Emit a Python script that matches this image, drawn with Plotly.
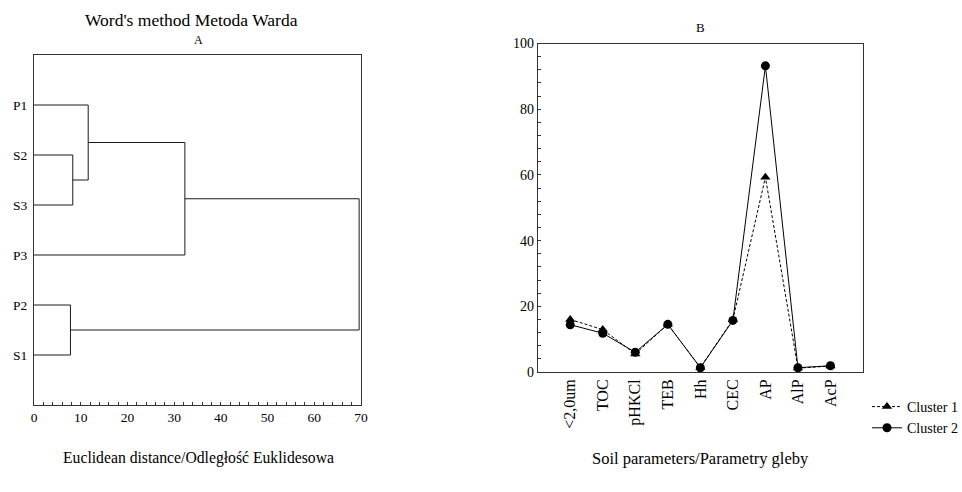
import plotly.graph_objects as go

# ---- Data: dendrogram (Ward's method) ----
leaves = ["P1", "S2", "S3", "P3", "P2", "S1"]          # top to bottom
# merges: (left member, right member, distance)
merges = [("S2", "S3", 8.3),
          ("P2", "S1", 7.8),
          ("P1", "c0", 11.6),
          ("c2", "P3", 32.3),
          ("c3", "c1", 69.6)]
dist_ticks = [0, 10, 20, 30, 40, 50, 60, 70]

# ---- Data: cluster profiles ----
params = ["<2,0um", "TOC", "pHKCl", "TEB", "Hh", "CEC", "AP", "AlP", "AcP"]
cluster1 = [16.0, 12.9, 5.5, 14.5, 1.4, 15.9, 59.3, 1.2, 1.8]
cluster2 = [14.4, 11.8, 6.0, 14.5, 1.3, 15.7, 93.2, 1.3, 1.9]

FONT = "Liberation Serif"
INK = "#1a1a1a"

# build dendrogram segments
ypos = {name: len(leaves) - i for i, name in enumerate(leaves)}
xpos = {name: 0.0 for name in leaves}
dx, dy = [], []
for k, (a, b, d) in enumerate(merges):
    for m in (a, b):
        dx += [xpos[m], d, None]
        dy += [ypos[m], ypos[m], None]
    dx += [d, d, None]
    dy += [ypos[a], ypos[b], None]
    node = f"c{k}"
    xpos[node] = d
    ypos[node] = (ypos[a] + ypos[b]) / 2

fig = go.Figure()
fig.add_trace(go.Scatter(x=dx, y=dy, mode="lines", line=dict(color=INK, width=1),
                         showlegend=False, xaxis="x", yaxis="y", hoverinfo="skip"))

fig.add_trace(go.Scatter(x=params, y=cluster1, mode="lines+markers", name="Cluster 1",
                         line=dict(color="black", width=1, dash="3px,2px"),
                         marker=dict(symbol="triangle-up", size=9, color="black"),
                         xaxis="x2", yaxis="y2"))
fig.add_trace(go.Scatter(x=params, y=cluster2, mode="lines+markers", name="Cluster 2",
                         line=dict(color="black", width=1),
                         marker=dict(symbol="circle", size=9, color="black"),
                         xaxis="x2", yaxis="y2"))

W, H = 962, 492
def px(x): return x / W
def py(y): return 1 - y / H

def label(text, x, y, size):
    return dict(text=text, x=px(x), y=py(y), xref="paper", yref="paper",
                xanchor="center", yanchor="middle", showarrow=False,
                font=dict(size=size))

fig.update_layout(
    width=W, height=H, margin=dict(l=0, r=0, t=0, b=0, autoexpand=False),
    paper_bgcolor="white", plot_bgcolor="white",
    font=dict(family=FONT, color="black", size=13),
    xaxis=dict(domain=[px(34), px(361)], range=[0, 70], tickvals=dist_ticks,
               showgrid=False, zeroline=False, showline=True, linecolor="#333",
               linewidth=1, mirror=True, ticks="inside", ticklen=3, tickcolor="#333",
               minor=dict(dtick=2, ticks="inside", ticklen=3, tickcolor="#333"),
               tickfont=dict(size=13.5), anchor="y", automargin=False),
    yaxis=dict(domain=[py(405), py(55)], range=[0, 7],
               tickvals=[ypos[n] for n in leaves], ticktext=leaves,
               showgrid=False, zeroline=False, showline=True, linecolor="#333",
               linewidth=1, mirror=True, ticks="", tickfont=dict(size=13.5),
               ticklabelstandoff=3, anchor="x", automargin=False),
    xaxis2=dict(domain=[px(537.7), px(863)], range=[-1, 9], type="category",
                showgrid=False, zeroline=False, showline=True, linecolor="#333",
                linewidth=1, mirror=True, ticks="", tickangle=-90,
                tickfont=dict(size=16), anchor="y2", automargin=False),
    yaxis2=dict(domain=[py(372), py(43.5)], range=[0, 100], dtick=20,
                showgrid=False, zeroline=False, showline=True, linecolor="#333",
                linewidth=1, mirror=True, ticks="inside", ticklen=3, tickcolor="#333",
                minor=dict(dtick=4, ticks="inside", ticklen=3, tickcolor="#333"),
                tickfont=dict(size=14), anchor="x2", automargin=False),
    legend=dict(x=px(867), y=py(391), xanchor="left", yanchor="top",
                font=dict(size=14), tracegroupgap=0, bgcolor="rgba(0,0,0,0)"),
    annotations=[
        label("Word's method Metoda Warda", 191, 20, 17.5),
        label("A", 198, 40, 12),
        label("B", 700, 28, 13),
        label("Euclidean distance/Odległość Euklidesowa", 198, 458, 15.7),
        label("Soil parameters/Parametry gleby", 700, 458, 16.5),
    ],
)

fig.write_html("out.html", config={"displayModeBar": False},
               post_script="document.body.style.margin='0px';")
